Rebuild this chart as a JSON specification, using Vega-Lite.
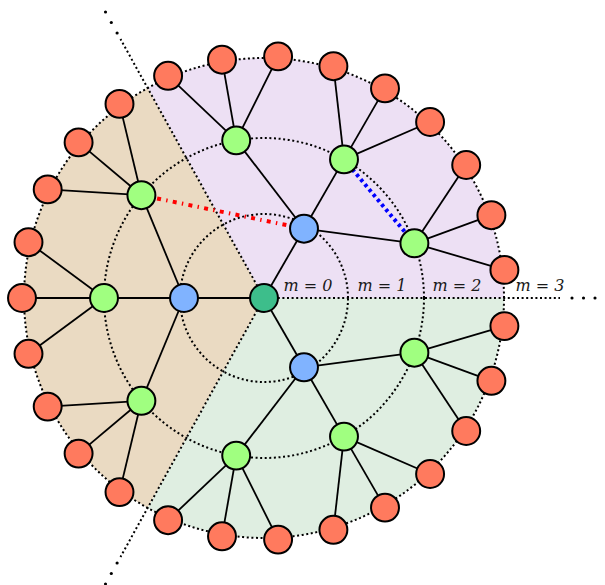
{
  "$schema": "https://vega.github.io/schema/vega-lite/v6.json",
  "width": 528,
  "height": 596,
  "autosize": "none",
  "padding": {"left": 0, "top": 0, "right": 77, "bottom": 0},
  "background": "white",
  "config": {"view": {"stroke": null}},
  "datasets": {
    "sectors": [
      {"sector": "A", "start": 0, "end": 119, "r": 240},
      {"sector": "B", "start": 119, "end": 241, "r": 240},
      {"sector": "C", "start": 241, "end": 360, "r": 240}
    ],
    "circles": [
      {"m": 0, "start": 0, "end": 365, "r": 84},
      {"m": 1, "start": 0, "end": 365, "r": 160},
      {"m": 2, "start": 0, "end": 365, "r": 240}
    ],
    "rays": [
      {"x": 0, "y": 0, "x2": 296, "y2": 0},
      {"x": 0, "y": 0, "x2": -143.5, "y2": 258.9},
      {"x": 0, "y": 0, "x2": -143.5, "y2": -258.9}
    ],
    "dots": [
      {"x": 308, "y": 0}, {"x": 319.5, "y": 0}, {"x": 331, "y": 0},
      {"x": -146.9, "y": 265.0}, {"x": -152.7, "y": 275.5}, {"x": -158.5, "y": 286.0},
      {"x": -146.9, "y": -265.0}, {"x": -152.7, "y": -275.5}, {"x": -158.5, "y": -286.0}
    ],
    "edges": [
      {"x": 0, "y": 0, "x2": 40, "y2": 69.3},
      {"x": 0, "y": 0, "x2": -80, "y2": 0},
      {"x": 0, "y": 0, "x2": 40, "y2": -69.3},
      {"x": 40, "y": 69.3, "x2": 150.4, "y2": 54.7},
      {"x": 40, "y": 69.3, "x2": 80, "y2": 138.6},
      {"x": 40, "y": 69.3, "x2": -27.8, "y2": 157.6},
      {"x": -80, "y": 0, "x2": -122.6, "y2": 102.8},
      {"x": -80, "y": 0, "x2": -160, "y2": 0},
      {"x": -80, "y": 0, "x2": -122.6, "y2": -102.8},
      {"x": 40, "y": -69.3, "x2": -27.8, "y2": -157.6},
      {"x": 40, "y": -69.3, "x2": 80, "y2": -138.6},
      {"x": 40, "y": -69.3, "x2": 150.4, "y2": -54.7},
      {"x": 150.4, "y": 54.7, "x2": 240.4, "y2": 28.1},
      {"x": 150.4, "y": 54.7, "x2": 227.4, "y2": 82.8},
      {"x": 150.4, "y": 54.7, "x2": 202.2, "y2": 133.0},
      {"x": 80, "y": 138.6, "x2": 166.1, "y2": 176.0},
      {"x": 80, "y": 138.6, "x2": 121, "y2": 209.6},
      {"x": 80, "y": 138.6, "x2": 69.4, "y2": 231.8},
      {"x": -27.8, "y": 157.6, "x2": 14.1, "y2": 241.6},
      {"x": -27.8, "y": 157.6, "x2": -42.0, "y2": 238.3},
      {"x": -27.8, "y": 157.6, "x2": -95.9, "y2": 222.2},
      {"x": -122.6, "y": 102.8, "x2": -144.5, "y2": 194.1},
      {"x": -122.6, "y": 102.8, "x2": -185.4, "y2": 155.6},
      {"x": -122.6, "y": 102.8, "x2": -216.3, "y2": 108.6},
      {"x": -160, "y": 0, "x2": -235.5, "y2": 55.8},
      {"x": -160, "y": 0, "x2": -242, "y2": 0},
      {"x": -160, "y": 0, "x2": -235.5, "y2": -55.8},
      {"x": -122.6, "y": -102.8, "x2": -216.3, "y2": -108.6},
      {"x": -122.6, "y": -102.8, "x2": -185.4, "y2": -155.6},
      {"x": -122.6, "y": -102.8, "x2": -144.5, "y2": -194.1},
      {"x": -27.8, "y": -157.6, "x2": -95.9, "y2": -222.2},
      {"x": -27.8, "y": -157.6, "x2": -42.0, "y2": -238.3},
      {"x": -27.8, "y": -157.6, "x2": 14.1, "y2": -241.6},
      {"x": 80, "y": -138.6, "x2": 69.4, "y2": -231.8},
      {"x": 80, "y": -138.6, "x2": 121, "y2": -209.6},
      {"x": 80, "y": -138.6, "x2": 166.1, "y2": -176.0},
      {"x": 150.4, "y": -54.7, "x2": 202.2, "y2": -133.0},
      {"x": 150.4, "y": -54.7, "x2": 227.4, "y2": -82.8},
      {"x": 150.4, "y": -54.7, "x2": 240.4, "y2": -28.1}
    ],
    "special": [
      {"kind": "red", "x": -122.6, "y": 102.8, "x2": 40, "y2": 69.3},
      {"kind": "blue", "x": 80, "y": 138.6, "x2": 150.4, "y2": 54.7}
    ],
    "nodes": [
      {"type": "center", "x": 0, "y": 0},
      {"type": "blue", "x": 40, "y": 69.3},
      {"type": "blue", "x": -80, "y": 0},
      {"type": "blue", "x": 40, "y": -69.3},
      {"type": "green", "x": 150.4, "y": 54.7},
      {"type": "green", "x": 80, "y": 138.6},
      {"type": "green", "x": -27.8, "y": 157.6},
      {"type": "green", "x": -122.6, "y": 102.8},
      {"type": "green", "x": -160, "y": 0},
      {"type": "green", "x": -122.6, "y": -102.8},
      {"type": "green", "x": -27.8, "y": -157.6},
      {"type": "green", "x": 80, "y": -138.6},
      {"type": "green", "x": 150.4, "y": -54.7},
      {"type": "red", "x": 240.4, "y": 28.1},
      {"type": "red", "x": 227.4, "y": 82.8},
      {"type": "red", "x": 202.2, "y": 133.0},
      {"type": "red", "x": 166.1, "y": 176.0},
      {"type": "red", "x": 121, "y": 209.6},
      {"type": "red", "x": 69.4, "y": 231.8},
      {"type": "red", "x": 14.1, "y": 241.6},
      {"type": "red", "x": -42.0, "y": 238.3},
      {"type": "red", "x": -95.9, "y": 222.2},
      {"type": "red", "x": -144.5, "y": 194.1},
      {"type": "red", "x": -185.4, "y": 155.6},
      {"type": "red", "x": -216.3, "y": 108.6},
      {"type": "red", "x": -235.5, "y": 55.8},
      {"type": "red", "x": -242, "y": 0},
      {"type": "red", "x": -235.5, "y": -55.8},
      {"type": "red", "x": -216.3, "y": -108.6},
      {"type": "red", "x": -185.4, "y": -155.6},
      {"type": "red", "x": -144.5, "y": -194.1},
      {"type": "red", "x": -95.9, "y": -222.2},
      {"type": "red", "x": -42.0, "y": -238.3},
      {"type": "red", "x": 14.1, "y": -241.6},
      {"type": "red", "x": 69.4, "y": -231.8},
      {"type": "red", "x": 121, "y": -209.6},
      {"type": "red", "x": 166.1, "y": -176.0},
      {"type": "red", "x": 202.2, "y": -133.0},
      {"type": "red", "x": 227.4, "y": -82.8},
      {"type": "red", "x": 240.4, "y": -28.1}
    ],
    "labels": [
      {"x": 44, "y": 7, "text": "m = 0"},
      {"x": 118, "y": 7, "text": "m = 1"},
      {"x": 193, "y": 7, "text": "m = 2"},
      {"x": 276, "y": 7, "text": "m = 3"}
    ]
  },
  "layer": [
    {
      "data": {"name": "sectors"},
      "mark": {"type": "arc", "stroke": null},
      "encoding": {
        "theta": {"field": "start", "type": "quantitative", "stack": null, "scale": {"type": "linear", "domain": [0, 360], "range": [1.5707963267948966, -4.71238898038469]}},
        "theta2": {"field": "end"},
        "radius": {"field": "r", "type": "quantitative", "scale": {"type": "linear", "domain": [0, 300], "range": [0, 300], "zero": true}},
        "color": {"field": "sector", "type": "nominal", "legend": null, "scale": {"domain": ["A", "B", "C"], "range": ["#EDE0F4", "#EADAC2", "#DFEEE1"]}}
      }
    },
    {
      "data": {"name": "circles"},
      "mark": {"type": "arc", "filled": false, "fill": null, "stroke": "black", "strokeWidth": 2, "strokeDash": [2, 2.6]},
      "encoding": {
        "theta": {"field": "start", "type": "quantitative", "stack": null},
        "theta2": {"field": "end"},
        "radius": {"field": "r", "type": "quantitative"}
      }
    },
    {
      "data": {"name": "rays"},
      "mark": {"type": "rule", "color": "black", "strokeWidth": 2, "strokeDash": [2, 2.6]},
      "encoding": {
        "x": {"field": "x", "type": "quantitative", "scale": {"domain": [-264, 264], "nice": false, "zero": false}, "axis": null},
        "y": {"field": "y", "type": "quantitative", "scale": {"domain": [-298, 298], "nice": false, "zero": false}, "axis": null},
        "x2": {"field": "x2"},
        "y2": {"field": "y2"}
      }
    },
    {
      "data": {"name": "dots"},
      "mark": {"type": "point", "shape": "circle", "filled": true, "color": "black", "size": 10, "opacity": 1},
      "encoding": {
        "x": {"field": "x", "type": "quantitative"},
        "y": {"field": "y", "type": "quantitative"}
      }
    },
    {
      "data": {"name": "edges"},
      "mark": {"type": "rule", "color": "black", "strokeWidth": 1.8},
      "encoding": {
        "x": {"field": "x", "type": "quantitative"},
        "y": {"field": "y", "type": "quantitative"},
        "x2": {"field": "x2"},
        "y2": {"field": "y2"}
      }
    },
    {
      "data": {"name": "special"},
      "transform": [{"filter": "datum.kind === 'red'"}],
      "mark": {"type": "rule", "color": "#FF0000", "strokeWidth": 4, "strokeDash": [4, 5.3, 1.4, 5.3]},
      "encoding": {
        "x": {"field": "x", "type": "quantitative"},
        "y": {"field": "y", "type": "quantitative"},
        "x2": {"field": "x2"},
        "y2": {"field": "y2"}
      }
    },
    {
      "data": {"name": "special"},
      "transform": [{"filter": "datum.kind === 'blue'"}],
      "mark": {"type": "rule", "color": "#0000FF", "strokeWidth": 4, "strokeDash": [3.2, 3.3]},
      "encoding": {
        "x": {"field": "x", "type": "quantitative"},
        "y": {"field": "y", "type": "quantitative"},
        "x2": {"field": "x2"},
        "y2": {"field": "y2"}
      }
    },
    {
      "data": {"name": "nodes"},
      "mark": {"type": "point", "shape": "circle", "filled": true, "size": 780, "stroke": "black", "strokeWidth": 2, "opacity": 1, "fillOpacity": 1, "strokeOpacity": 1},
      "encoding": {
        "x": {"field": "x", "type": "quantitative"},
        "y": {"field": "y", "type": "quantitative"},
        "fill": {"field": "type", "type": "nominal", "legend": null, "scale": {"domain": ["center", "blue", "green", "red"], "range": ["#3DBE8B", "#80B3FF", "#A0FF80", "#FF7A5E"]}}
      }
    },
    {
      "data": {"name": "labels"},
      "mark": {"type": "text", "font": "DejaVu Serif", "fontStyle": "italic", "fontSize": 16, "align": "center", "baseline": "alphabetic", "color": "#1a1a1a"},
      "encoding": {
        "x": {"field": "x", "type": "quantitative"},
        "y": {"field": "y", "type": "quantitative"},
        "text": {"field": "text", "type": "nominal"}
      }
    }
  ]
}
